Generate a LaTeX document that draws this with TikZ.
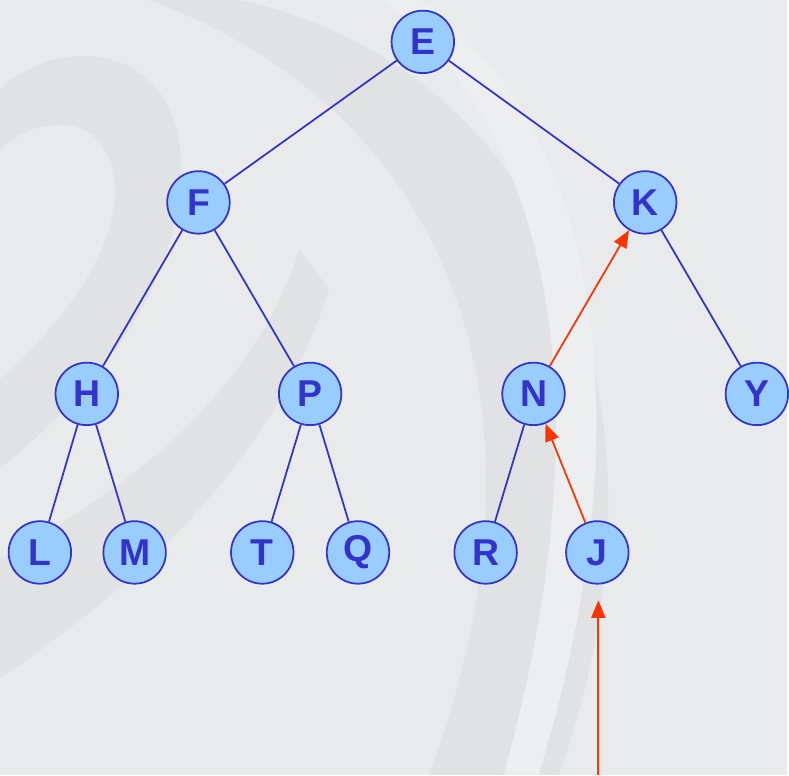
\documentclass[tikz,border=0pt]{standalone}
\usepackage{fontspec}
\setmainfont{Liberation Sans}
\usetikzlibrary{arrows.meta}
\definecolor{nodefill}{HTML}{99CCFF}
\definecolor{treeblue}{HTML}{3333CC}
\definecolor{pathred}{HTML}{FF3300}
\definecolor{bgpaper}{HTML}{E9EAEC}
\definecolor{bgswirl}{HTML}{E1E2E4}
\definecolor{bglight}{HTML}{EDEEF0}
\begin{document}
\begin{tikzpicture}[x=0.03cm, y=-0.03cm,
    vertex/.style={circle, draw=treeblue, fill=nodefill, line width=1.5pt,
      minimum size=1.88cm, inner sep=0pt, text=treeblue,
      font=\fontsize{32}{32}\selectfont\bfseries},
    edge/.style={treeblue, line width=1.5pt},
    climb/.style={draw=pathred, line width=1.5pt,
      -{Triangle[length=15pt,width=12pt,fill=pathred]}}]
    % paper and watermark swirl
    \fill[bgpaper] (0,0) rectangle (789,777);
    \fill[bgswirl] (240,0) .. controls (560,70) and (690,420) .. (560,777)
      -- (430,777) .. controls (560,430) and (470,120) .. (150,0) -- cycle;
    \fill[bglight] (420,0) .. controls (600,120) and (650,420) .. (540,777)
      -- (505,777) .. controls (605,420) and (560,140) .. (385,0) -- cycle;
    \fill[bgswirl] (0,90) .. controls (60,30) and (200,40) .. (180,200)
      .. controls (160,330) and (60,420) .. (0,470) -- (0,380)
      .. controls (90,300) and (130,220) .. (110,160)
      .. controls (90,110) and (30,120) .. (0,150) -- cycle;
    \fill[bgswirl] (0,560) .. controls (150,480) and (260,380) .. (300,250)
      -- (330,290) .. controls (280,450) and (150,580) .. (0,680) -- cycle;
    % tree nodes
    \node[vertex] (e) at (424,42) {E};
    \node[vertex] (f) at (199,203) {F};
    \node[vertex] (k) at (647,203) {K};
    \node[vertex] (h) at (87,395) {H};
    \node[vertex] (p) at (311,395) {P};
    \node[vertex] (n) at (535,395) {N};
    \node[vertex] (y) at (759,395) {Y};
    \node[vertex] (l) at (40,554) {L};
    \node[vertex] (m) at (135,554) {M};
    \node[vertex] (t) at (263,554) {T};
    \node[vertex] (q) at (359,554) {Q};
    \node[vertex] (r) at (487,554) {R};
    \node[vertex] (j) at (599,554) {J};
    \coordinate (start) at (600,777);
    \coordinate (below) at (600,602);
    % edges
    \draw[edge] (e) -- (f);
    \draw[edge] (e) -- (k);
    \draw[edge] (f) -- (h);
    \draw[edge] (f) -- (p);
    \draw[edge] (k) -- (y);
    \draw[edge] (h) -- (l);
    \draw[edge] (h) -- (m);
    \draw[edge] (p) -- (t);
    \draw[edge] (p) -- (q);
    \draw[edge] (n) -- (r);
    % path up from the new leaf
    \draw[climb] (start) -- (below);
    \draw[climb] (j) -- (n);
    \draw[climb] (n) -- (k);
\end{tikzpicture}
\end{document}
